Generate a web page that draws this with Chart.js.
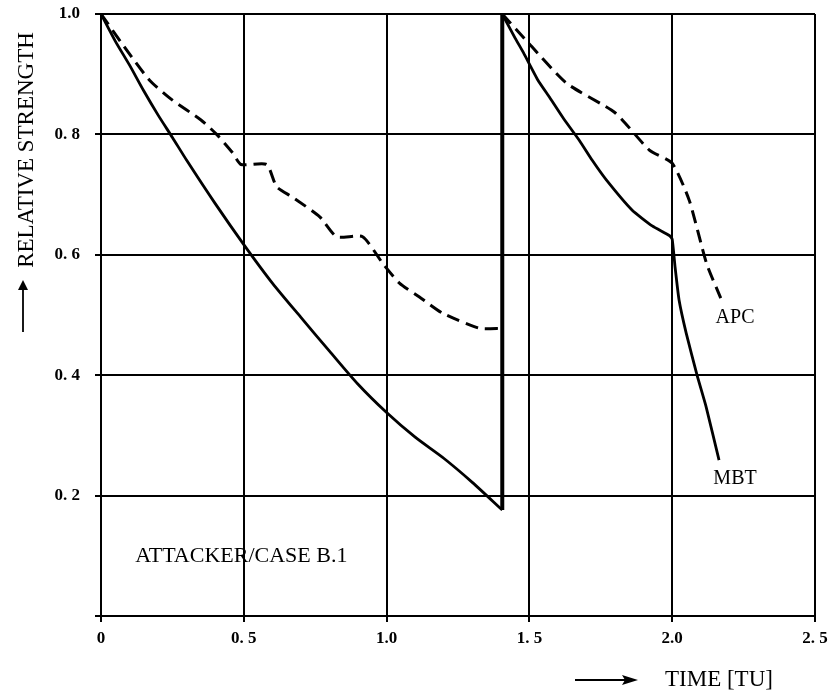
<!DOCTYPE html>
<html>
<head>
<meta charset="utf-8">
<script src="https://cdn.jsdelivr.net/npm/chart.js@4/dist/chart.umd.min.js"></script>
<style>
  html, body { margin: 0; padding: 0; background: #fff; }
  #wrap { width: 831px; height: 697px; }
</style>
</head>
<body>
<div id="wrap"><canvas id="chart1" width="831" height="697"></canvas></div>
<script>
// MBT (solid), first engagement
const mbt1Time = [0, 0.05, 0.1, 0.15, 0.2, 0.25, 0.3, 0.4, 0.5, 0.6, 0.7, 0.8, 0.9, 1.0, 1.1, 1.2, 1.3, 1.405];
const mbt1Value = [1.0, 0.955, 0.915, 0.872, 0.832, 0.795, 0.757, 0.685, 0.617, 0.553, 0.496, 0.44, 0.385, 0.338, 0.297, 0.262, 0.222, 0.176];
// reset to full strength
const resetTime = [1.405, 1.405];
const resetValue = [0.176, 1.0];
// MBT, second engagement
const mbt2Time = [1.405, 1.45, 1.48, 1.53, 1.57, 1.62, 1.675, 1.72, 1.77, 1.86, 1.93, 1.99, 2.0, 2.01, 2.024, 2.049, 2.087, 2.119, 2.164];
const mbt2Value = [1.0, 0.96, 0.935, 0.89, 0.862, 0.826, 0.79, 0.757, 0.724, 0.674, 0.648, 0.632, 0.626, 0.58, 0.525, 0.47, 0.40, 0.347, 0.259];

// APC (dashed) - null marks the break at the reset
const apcTime = [0, 0.09, 0.17, 0.25, 0.35, 0.405, 0.46, 0.49, 0.58, 0.615, 0.67, 0.766, 0.825, 0.916, 0.986, 1.045, 1.115, 1.196, 1.325, 1.405,
  1.405, 1.405, 1.5, 1.63, 1.8, 1.92, 2.0, 2.06, 2.12, 2.17];
const apcValue = [1.0, 0.94, 0.89, 0.857, 0.824, 0.8, 0.77, 0.75, 0.75, 0.713, 0.696, 0.663, 0.63, 0.63, 0.586, 0.553, 0.53, 0.503, 0.478, 0.478,
  null, 1.0, 0.95, 0.885, 0.836, 0.774, 0.752, 0.69, 0.586, 0.528];

const xTicks = [0, 0.5, 1.0, 1.5, 2.0, 2.5];
const yTicks = [0, 0.2, 0.4, 0.6, 0.8, 1.0];

const SERIF = '"Liberation Serif", "DejaVu Serif", serif';

function fmt(v) {
  if (v === 0) return '0';
  if (v === 1 || v === 2) return v.toFixed(1);
  return v.toFixed(1).replace('.', '. ');
}

function pts(xs, ys) {
  return xs.map((t, i) => ({ x: t, y: ys[i] }));
}

function noPad(s) {
  s.paddingTop = 0; s.paddingBottom = 0; s.paddingLeft = 0; s.paddingRight = 0;
}

const labelsPlugin = {
  id: 'labels',
  afterDraw(chart) {
    const ctx = chart.ctx;
    const xs = chart.scales.x, ys = chart.scales.y;
    ctx.save();
    ctx.fillStyle = '#000';
    ctx.strokeStyle = '#000';
    ctx.textBaseline = 'middle';
    ctx.font = '22px ' + SERIF;
    ctx.textAlign = 'left';
    ctx.fillText('ATTACKER/CASE B.1', xs.getPixelForValue(0.12), ys.getPixelForValue(0.1));
    ctx.font = '20px ' + SERIF;
    ctx.textAlign = 'center';
    ctx.fillText('APC', xs.getPixelForValue(2.22), ys.getPixelForValue(0.495));
    ctx.fillText('MBT', xs.getPixelForValue(2.22), ys.getPixelForValue(0.228));

    // y axis title with arrow
    ctx.save();
    ctx.translate(27, 150);
    ctx.rotate(-Math.PI / 2);
    ctx.font = '23px ' + SERIF;
    ctx.textAlign = 'center';
    ctx.fillText('RELATIVE STRENGTH', 0, 0);
    ctx.lineWidth = 1.8;
    ctx.beginPath();
    ctx.moveTo(-182, -4); ctx.lineTo(-134, -4); ctx.stroke();
    ctx.beginPath();
    ctx.moveTo(-130, -4); ctx.lineTo(-140, -9); ctx.lineTo(-140, 1); ctx.closePath(); ctx.fill();
    ctx.restore();

    // x axis title with arrow
    ctx.font = '23px ' + SERIF;
    ctx.textAlign = 'left';
    ctx.fillText('TIME [TU]', 665, 680);
    ctx.lineWidth = 2;
    ctx.beginPath();
    ctx.moveTo(575, 680); ctx.lineTo(628, 680); ctx.stroke();
    ctx.beginPath();
    ctx.moveTo(638, 680); ctx.lineTo(622, 675); ctx.lineTo(625, 680); ctx.lineTo(622, 685); ctx.closePath(); ctx.fill();
    ctx.restore();
  }
};

const solid = { borderColor: '#000', borderWidth: 2.8, pointRadius: 0, tension: 0.25, fill: false };

const data = {
  datasets: [
    Object.assign({ label: 'MBT', data: pts(mbt1Time, mbt1Value) }, solid),
    Object.assign({ label: 'reset', data: pts(resetTime, resetValue) }, solid, { borderWidth: 4, tension: 0 }),
    Object.assign({ label: 'MBT 2', data: pts(mbt2Time, mbt2Value) }, solid, { tension: 0.15 }),
    {
      label: 'APC',
      data: pts(apcTime, apcValue),
      borderColor: '#000',
      borderWidth: 3,
      borderDash: [13, 7],
      pointRadius: 0,
      tension: 0.2,
      spanGaps: false,
      fill: false
    }
  ]
};

const config = {
  type: 'line',
  data: data,
  plugins: [labelsPlugin],
  options: {
    responsive: false,
    animation: false,
    layout: { padding: { top: 14, right: 16, left: 0, bottom: 0 } },
    plugins: {
      legend: { display: false },
      tooltip: { enabled: false }
    },
    scales: {
      x: {
        type: 'linear',
        min: 0,
        max: 2.5,
        afterBuildTicks: (s) => { s.ticks = xTicks.map(v => ({ value: v })); },
        afterFit: (s) => { s.height = 81; noPad(s); },
        ticks: {
          callback: (v) => fmt(v),
          color: '#000',
          font: { family: SERIF, size: 17, weight: 'bold' },
          padding: 6,
          maxRotation: 0
        },
        grid: { color: '#000', lineWidth: 2, tickLength: 6 },
        border: { color: '#000', width: 2 }
      },
      y: {
        min: 0,
        max: 1,
        afterBuildTicks: (s) => { s.ticks = yTicks.map(v => ({ value: v })); },
        afterFit: (s) => { s.width = 101; noPad(s); },
        ticks: {
          callback: (v) => v === 0 ? '' : fmt(v),
          color: '#000',
          font: { family: SERIF, size: 17, weight: 'bold' },
          padding: 15
        },
        grid: { color: '#000', lineWidth: 2, tickLength: 6 },
        border: { color: '#000', width: 2 }
      }
    }
  }
};

var myChart = new Chart(
  document.getElementById('chart1'),
  config
);
</script>
</body>
</html>
